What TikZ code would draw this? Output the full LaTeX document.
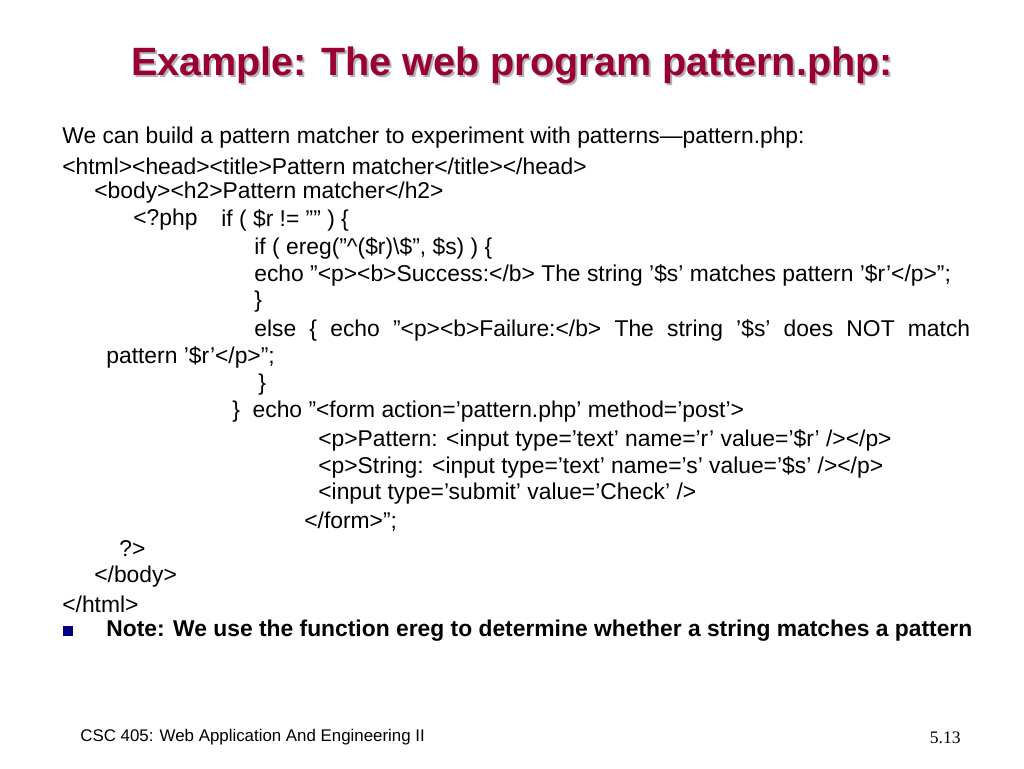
\documentclass[tikz,border=0pt]{standalone}
\usepackage{fontspec}
\setmainfont{Liberation Sans}
\newfontfamily\serifft{Liberation Serif}
\usepackage{xcolor}
\definecolor{titlered}{HTML}{990033}
\definecolor{bulletblue}{HTML}{000080}
\newcommand\dq{\char"22\relax}
\begin{document}
\begin{tikzpicture}[x=0.02cm,y=-0.02cm]
\tikzset{ln/.style={anchor=west, inner sep=0pt, font=\fontsize{13}{15}\selectfont},
  ttl/.style={inner sep=0pt, font=\fontsize{22.5}{27}\selectfont\bfseries}}
\useasboundingbox (0,0) rectangle (1024,768);
% title
\node[ttl, text=gray!60] at (514,67) {Example: The web program pattern.php:};
\node[ttl, text=titlered] (title) at (512,65) {Example: The web program pattern.php:};
% code lines
\node[ln] (l1) at (62,138) {We can build a pattern matcher to experiment with patterns—pattern.php:};
\node[ln] (l2) at (62,166) {<html><head><title>Pattern matcher</title></head>};
\node[ln] (l3) at (94,193) {<body><h2>Pattern matcher</h2>};
\node[ln] (l4) at (133,220) {<?php};
\node[ln] (l4b) at (221,220) {if ( \$r != \dq\dq{} ) \{};
\node[ln] (l5) at (254,248) {if ( ereg(\dq\textasciicircum(\$r)\textbackslash\$\dq, \$s) ) \{};
\node[ln] (l6) at (254,275) {echo \dq<p><b>Success:</b> The string ’\$s’ matches pattern ’\$r’</p>\dq;};
\node[ln] (l7) at (254,302) {\}};
\node[ln] (l8) at (254,330) {\makebox[14.32cm][s]{else \{ echo \dq<p><b>Failure:</b> The string ’\$s’ does NOT match}};
\node[ln] (l9) at (106,357) {pattern ’\$r’</p>\dq;};
\node[ln] (l10) at (258,385) {\}};
\node[ln] (l11) at (232,412) {\}\ \ echo \dq<form action=’pattern.php’ method=’post’>};
\node[ln] (l12) at (318,440) {<p>Pattern: <input type=’text’ name=’r’ value=’\$r’ /></p>};
\node[ln] (l13) at (318,467) {<p>String: <input type=’text’ name=’s’ value=’\$s’ /></p>};
\node[ln] (l14) at (318,494) {<input type=’submit’ value=’Check’ />};
\node[ln] (l15) at (304,522) {</form>\dq;};
\node[ln] (l16) at (119,549) {?>};
\node[ln] (l17) at (94,577) {</body>};
\node[ln] (l18) at (62,604) {</html>};
% note
\fill[bulletblue] (63,626) rectangle (73,636);
\node[ln, font=\fontsize{13}{15}\selectfont\bfseries] (note) at (106,631) {Note: We use the function ereg to determine whether a string matches a pattern};
% footer
\node[ln, font=\fontsize{9.6}{12}\selectfont] (foot) at (80,737) {CSC 405: Web Application And Engineering II};
\node[anchor=east, inner sep=0pt, font=\serifft\fontsize{10}{12}\selectfont] (page) at (961,738) {5.13};
\end{tikzpicture}
\end{document}
